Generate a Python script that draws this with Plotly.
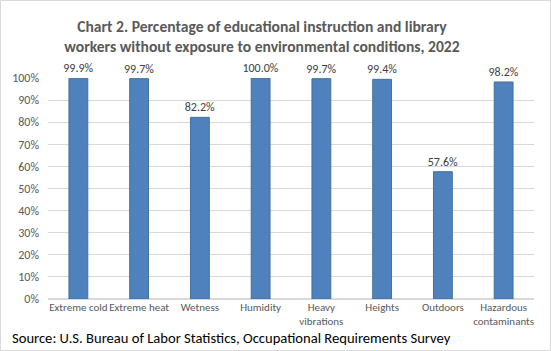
import plotly.graph_objects as go

categories = ["Extreme cold", "Extreme heat", "Wetness", "Humidity",
              "Heavy<br>vibrations", "Heights", "Outdoors", "Hazardous<br>contaminants"]
values = [99.9, 99.7, 82.2, 100.0, 99.7, 99.4, 57.6, 98.2]
labels = [f"{v:.1f}%" for v in values]

W, H = 551, 351
L, R, T, B = 48, 17, 78, 52
pw, ph = W - L - R, H - T - B

FONT = "Carlito, Lato, Liberation Sans"

fig = go.Figure(go.Bar(
    x=categories, y=values, text=labels, textposition="outside",
    textfont=dict(family=FONT, size=12, color="#404040"),
    constraintext="none",
    marker=dict(color="#4F81BD", line=dict(color="#41719C", width=1)),
    width=0.31, cliponaxis=False,
))

fig.update_layout(
    width=W, height=H, autosize=False,
    margin=dict(l=L, r=R, t=T, b=B),
    paper_bgcolor="white", plot_bgcolor="white",
    showlegend=False,
    title=dict(
        text="Chart 2. Percentage of educational instruction and library<br>workers without exposure to environmental conditions, 2022",
        x=262 / W, xanchor="center", y=1 - 32 / H, yanchor="middle",
        font=dict(family=FONT, size=15.6, color="#595959", weight="bold"),
    ),
    xaxis=dict(tickfont=dict(family=FONT, size=11, color="#595959"),
               tickangle=0, showline=False, ticks="", showgrid=False),
    yaxis=dict(range=[0, 100], dtick=10, ticksuffix="%",
               tickfont=dict(family=FONT, size=12, color="#595959"),
               gridcolor="#D9D9D9", gridwidth=1, zeroline=True,
               zerolinecolor="#D9D9D9", showline=False, ticks="",
               ticklabelstandoff=8),
    annotations=[dict(
        text="Source: U.S. Bureau of Labor Statistics, Occupational Requirements Survey",
        xref="paper", yref="paper", x=(10 - L) / pw, y=-(338 - (T + ph)) / ph,
        xanchor="left", yanchor="middle", showarrow=False,
        font=dict(family=FONT, size=14.6, color="#000000"),
    )],
    shapes=[dict(type="rect", xref="paper", yref="paper",
                 x0=(0.5 - L) / pw, x1=(W - 0.5 - L) / pw,
                 y0=-(H - 0.5 - T - ph) / ph, y1=1 + (T - 0.5) / ph,
                 line=dict(color="#D9D9D9", width=1))],
)

fig.write_html("out.html")
